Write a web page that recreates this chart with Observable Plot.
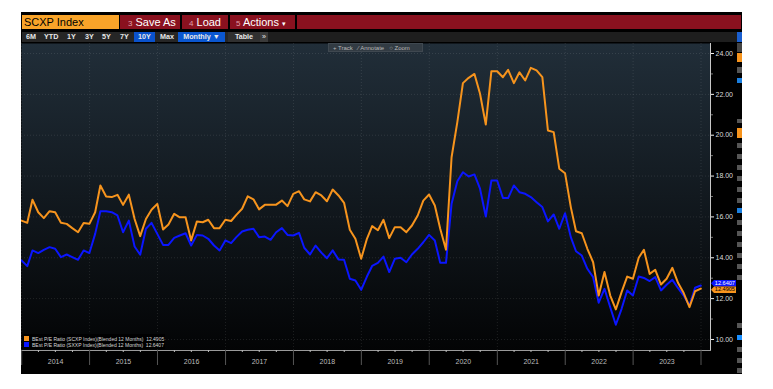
<!DOCTYPE html>
<html><head><meta charset="utf-8">
<script src="https://cdn.jsdelivr.net/npm/d3@7"></script>
<script src="https://cdn.jsdelivr.net/npm/@observablehq/plot@0.6"></script>
<style>
body{margin:0;background:#fff;width:773px;height:389px;overflow:hidden;font-family:"Liberation Sans",Arial,sans-serif}
#frame{position:absolute;left:21px;top:12px;width:721px;height:362px;background:#000;overflow:hidden}
.abs{position:absolute;white-space:nowrap}
.r1{top:3px;height:14px;line-height:14px;font-size:11px;color:#fff}
.r2{top:20px;height:10px;line-height:10px;font-size:7.2px;font-weight:bold;color:#e8e8e8}
.hk{color:#e0a0a8;font-size:8px}
.strip{position:absolute;left:716px;width:5px}
</style></head><body>
<div id="frame">
  <div class="abs r1" style="left:1px;width:97px;background:#f9a429;color:#000;padding-left:2px;box-sizing:border-box">SCXP Index</div>
  <div class="abs r1" style="left:99px;width:621px;background:#8a111f"></div>
  <div class="abs r1" style="left:159px;width:2px;background:#000"></div>
  <div class="abs r1" style="left:207px;width:2px;background:#000"></div>
  <div class="abs r1" style="left:274px;width:2px;background:#000"></div>
  <div class="abs r1" style="left:107px"><span class="hk">3</span> Save As</div>
  <div class="abs r1" style="left:168px"><span class="hk">4</span> Load</div>
  <div class="abs r1" style="left:215px"><span class="hk">5</span> Actions <span style="font-size:7px">▾</span></div>

  <div class="abs r2" style="left:1px;width:715px;background:#1e1e1e"></div>
  <div class="abs r2" style="left:1px;width:246px;background:#262626"></div>
  <div class="abs r2" style="left:5px">6M</div>
  <div class="abs r2" style="left:23px">YTD</div>
  <div class="abs r2" style="left:46px">1Y</div>
  <div class="abs r2" style="left:64px">3Y</div>
  <div class="abs r2" style="left:81px">5Y</div>
  <div class="abs r2" style="left:99px">7Y</div>
  <div class="abs r2" style="left:113px;width:21px;background:#0a52cc;text-align:center">10Y</div>
  <div class="abs r2" style="left:139px">Max</div>
  <div class="abs r2" style="left:157px;width:47px;background:#0b57d0;text-align:center">Monthly ▼</div>
  <div class="abs r2" style="left:207px;width:32px;background:#303030;text-align:center">Table</div>
  <div class="abs r2" style="left:239px;width:8px;background:#3a3a3a;text-align:center;font-weight:normal">&#187;</div>

  <div id="chart" class="abs" style="left:0;top:31px"></div>

  <div class="abs" style="left:307px;top:31px;width:95px;height:9px;background:#323b43;border:1px solid #3f4850;box-sizing:border-box;font-size:6px;line-height:8px;color:#b8b8b8;padding-left:4px">+ Track &nbsp;&nbsp;⁄ Annotate &nbsp;&nbsp;○ Zoom</div>

  <div id="legend" class="abs" style="left:1px;top:322px;width:143px;height:15px;background:rgba(0,0,0,0.85);font-size:5px;line-height:6px;color:#d8d8d8">
    <div class="abs" style="left:2px;top:2px;width:5px;height:5px;background:#f7941d"></div>
    <div class="abs" style="left:10px;top:1.5px">BEst P/E Ratio (SCXP Index)(Blended 12 Months) &nbsp;12.4905</div>
    <div class="abs" style="left:2px;top:8px;width:5px;height:5px;background:#0b16ff"></div>
    <div class="abs" style="left:10px;top:7.5px">BEst P/E Ratio (SXXP Index)(Blended 12 Months) &nbsp;12.6407</div>
  </div>
  <div id="tags"></div>
  <div id="strip"></div>
</div>
<script>
// ---- data (monthly, Dec 2013 .. Dec 2023) ----
const seriesNames = ["BEst P/E Ratio (SCXP Index)(Blended 12 Months)", "BEst P/E Ratio (SXXP Index)(Blended 12 Months)"];
const lastValues = [12.4905, 12.6407];
const scxp = [
 15.82,15.71,16.84,16.23,15.94,16.28,16.23,15.71,15.66,15.45,15.25,15.70,
 15.66,16.23,17.54,17.00,16.97,17.08,16.59,17.09,15.90,15.06,15.90,16.35,
 16.64,15.38,15.63,16.15,15.98,15.98,14.85,15.78,15.74,15.86,15.45,15.45,
 15.86,15.80,16.10,16.40,17.01,16.86,16.37,16.59,16.60,16.60,16.80,16.53,
 17.13,17.26,16.86,16.76,17.21,17.05,16.77,17.34,17.05,16.69,15.37,14.93,
 13.95,14.93,15.55,15.35,15.86,14.96,15.50,15.50,15.25,15.58,16.07,16.80,
 17.10,16.56,15.42,14.39,18.92,20.64,22.55,22.81,23.00,22.03,20.52,23.13,
 23.13,22.84,23.20,22.55,23.08,22.68,23.30,23.17,22.84,20.23,20.15,18.36,
 18.14,16.48,15.30,15.20,14.44,13.78,12.15,13.30,12.15,11.47,12.32,13.08,
 12.97,14.00,14.39,13.21,13.41,12.69,12.97,13.51,12.76,12.27,11.58,12.36,
 12.49
];
const sxxp = [
 13.87,13.59,14.36,14.23,14.39,14.52,14.44,14.03,14.16,14.03,13.90,14.36,
 14.23,15.17,16.28,16.28,16.23,16.07,15.25,15.82,14.55,14.15,15.42,15.71,
 15.17,14.63,14.63,14.97,15.09,15.20,14.60,15.12,15.09,14.93,14.60,14.36,
 14.85,14.72,15.01,15.29,15.37,15.42,15.01,15.04,14.88,15.25,15.45,15.12,
 15.09,15.22,14.49,14.16,14.60,14.25,13.98,14.36,13.92,13.90,12.97,12.89,
 12.43,13.08,13.60,13.75,14.06,13.30,13.95,14.00,13.78,14.16,14.44,14.76,
 15.12,14.85,13.75,13.75,16.64,17.75,18.19,17.98,18.08,17.38,16.02,17.78,
 17.78,16.93,16.92,17.54,17.21,17.13,16.97,16.72,16.48,15.78,16.12,15.42,
 16.18,15.01,14.32,14.11,13.46,13.05,11.80,12.48,11.58,10.72,11.50,12.40,
 12.15,13.08,13.01,12.86,13.05,12.40,12.68,12.92,12.51,12.15,11.66,12.53,
 12.64
];
const yTicks = [10,12,14,16,18,20,22,24];
const yMinor = [11,13,15,17,19,21,23];
const years = [2014,2015,2016,2017,2018,2019,2020,2021,2022,2023];
const colors = ["#f7941d", "#0b16ff"];

// month-end dates
const dates = d3.utcMonth.range(new Date(Date.UTC(2014,0,1)), new Date(Date.UTC(2024,0,2)))
  .map(d => d3.utcDay.offset(d, -1));
const data = dates.map((d, i) => ({date: d, scxp: scxp[i], sxxp: sxxp[i]}));
const yearStarts = years.map(y => new Date(Date.UTC(y,0,1))).concat([new Date(Date.UTC(2024,0,1))]);
const midYears = years.map(y => new Date(Date.UTC(y,6,2)));
const quarters = d3.utcMonth.every(3).range(new Date(Date.UTC(2014,0,1)), new Date(Date.UTC(2024,1,1)))
  .filter(d => d.getUTCMonth() !== 0);

const W = 716, H = 331;
const chart = Plot.plot({
  width: W, height: H,
  marginLeft: 0, marginRight: 27, marginTop: 0, marginBottom: 24,
  style: {background: "transparent", fontFamily: "'Liberation Sans', Arial, sans-serif", overflow: "visible"},
  x: {type: "utc", domain: [new Date(Date.UTC(2013,11,31)), new Date(Date.UTC(2024,1,21))], axis: null},
  y: {domain: [9.46, 24.49], axis: null},
  marks: [
    Plot.frame({fill: "url(#bgGrad)", stroke: "none"}),
    Plot.gridY({ticks: yTicks, stroke: "#ffffff", strokeOpacity: 0.10, strokeDasharray: "1,2"}),
    Plot.gridX({ticks: yearStarts, stroke: "#ffffff", strokeOpacity: 0.10, strokeDasharray: "1,2"}),
    Plot.lineY(data, {x: "date", y: "sxxp", stroke: colors[1], strokeWidth: 2}),
    Plot.lineY(data, {x: "date", y: "scxp", stroke: colors[0], strokeWidth: 2}),
    Plot.frame({anchor: "right", stroke: "#c8c8c8"}),
    Plot.frame({anchor: "bottom", stroke: "#9a9a9a"}),
    Plot.axisY({anchor: "right", ticks: yTicks, tickSize: 3, tickPadding: 2, tickFormat: d => d.toFixed(2),
      fontSize: 7, stroke: "#f0f0f0", fill: "#dcdcdc"}),
    Plot.axisY({anchor: "right", ticks: yMinor, tickSize: 2, tickFormat: () => "", stroke: "#777"}),
    Plot.axisX({anchor: "bottom", ticks: yearStarts, tickSize: 15, tickFormat: () => "", stroke: "#555"}),
    Plot.axisX({anchor: "bottom", ticks: quarters, tickSize: 2, tickFormat: () => "", stroke: "#bbb"}),
    Plot.axisX({anchor: "bottom", ticks: midYears, tickSize: 0, tickPadding: 9, tickFormat: d3.utcFormat("%Y"),
      fontSize: 7, fill: "#bdbdbd"})
  ]
});
const svg = d3.select(chart);
const grad = svg.insert("defs", ":first-child").append("linearGradient")
  .attr("id", "bgGrad").attr("x1", 0).attr("y1", 0).attr("x2", 0).attr("y2", 1);
grad.append("stop").attr("offset", "0%").attr("stop-color", "#212e39");
grad.append("stop").attr("offset", "100%").attr("stop-color", "#030405");
document.getElementById("chart").appendChild(chart);

// last-value tags on the right axis (blue one sits just above, partly behind, the orange one)
const ys = chart.scale("y");
const tags = document.getElementById("tags");
[[1, "#0b16ff", "#fff", -1.8], [0, "#f7941d", "#000", 1.6]].forEach(([i, bg, fg, dy]) => {
  const yy = 31 + ys.apply(lastValues[i]) + dy;
  const t = document.createElement("div");
  t.className = "abs";
  t.style.cssText = `left:690px;top:${yy - 3.3}px;width:25px;height:6.6px;background:${bg};color:${fg};
    font-size:5.6px;line-height:6.6px;text-align:right;padding-right:1px;box-sizing:border-box;
    clip-path:polygon(0 50%,3px 0,100% 0,100% 100%,3px 100%)`;
  t.textContent = lastValues[i].toFixed(4);
  tags.appendChild(t);
});

// cropped side panel fragments
const strip = document.getElementById("strip");
const bits = [[20,10,"#1a5fd0"],[31,9,"#444"],[41,9,"#f7941d"],[55,6,"#555"],[66,5,"#1a7fe0"],[107,4,"#555"],[116,10,"#f7941d"],
  [131,5,"#555"],[142,5,"#555"],[153,5,"#555"],[164,5,"#555"],[175,5,"#555"],[186,5,"#555"],[196,5,"#1a7fe0"],
  [208,5,"#555"],[219,5,"#555"],[230,5,"#555"],[241,5,"#555"],[252,5,"#555"],[263,5,"#555"],
  [311,5,"#555"],[323,5,"#1a8fff"],[335,5,"#555"],[346,5,"#555"],[356,5,"#555"]];
bits.forEach(([t,h,c]) => {
  const b = document.createElement("div");
  b.className = "strip";
  b.style.top = t + "px"; b.style.height = h + "px"; b.style.background = c;
  strip.appendChild(b);
});
</script>
</body></html>
